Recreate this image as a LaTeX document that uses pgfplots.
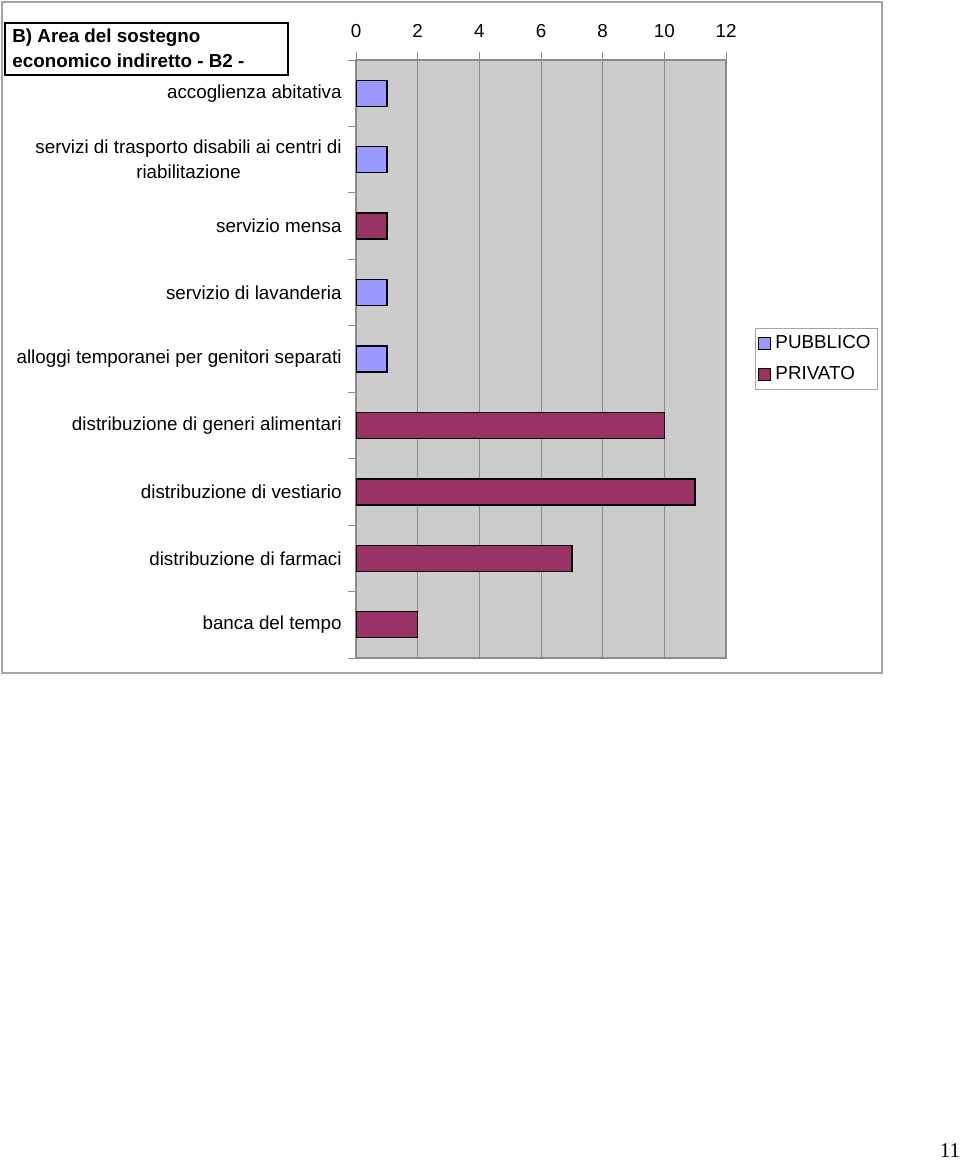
\documentclass[border=0pt]{standalone}
\usepackage{pgfplots}
\pgfplotsset{compat=1.18}
\usepackage{fontspec}
\setmainfont{Liberation Sans}
\newfontfamily\seriffont{Liberation Serif}
\definecolor{pub}{RGB}{153,153,255}
\definecolor{priv}{RGB}{153,51,102}
\definecolor{plotbg}{RGB}{204,204,204}
\definecolor{gridc}{RGB}{140,140,140}
\definecolor{framec}{RGB}{165,165,165}
\pgfplotsset{myleg/.style={legend image code/.code={\draw[##1, draw=black, line width=0.6pt] (0pt,-3pt) rectangle (6pt,3pt);}}}
\begin{document}
\begin{tikzpicture}
\fontsize{9.4}{12.5}\selectfont
\useasboundingbox (0,0) rectangle (480pt,-580pt);
\fill[white] (0,0) rectangle (480pt,-580pt);
\draw[framec, line width=0.6pt] (1pt,-1pt) rectangle (441pt,-336.5pt);
\begin{axis}[
  at={(178pt,-329pt)}, anchor=south west,
  scale only axis, width=185pt, height=299pt,
  xmin=0, xmax=12, ymin=-0.5, ymax=8.5, y dir=reverse,
  xbar, bar width=13pt, bar shift=0pt,
  axis background/.style={fill=plotbg},
  axis line style={gridc, line width=0.6pt},
  xtick={0,2,...,12}, xtick pos=right, xticklabel pos=right,
  tick align=outside, major tick length=4pt,
  tick style={gridc, line width=0.5pt},
  xmajorgrids, grid style={gridc, line width=0.5pt},
  /pgf/number format/assume math mode=true,
  ticklabel style={font=\fontsize{9.4}{12.5}\selectfont},
  xticklabel style={inner sep=0pt, anchor=base, yshift=7.5pt},
  ytick={-0.5,0.5,...,8.5}, yticklabels={}, ytick pos=left,
  extra y ticks={0,1,2,3,4,5,6,7,8},
  extra y tick labels={accoglienza abitativa,{servizi di trasporto disabili ai centri di\\riabilitazione},servizio mensa,servizio di lavanderia,alloggi temporanei per genitori separati,distribuzione di generi alimentari,distribuzione di vestiario,distribuzione di farmaci,banca del tempo},
  extra y tick style={tick style={draw=none}, yticklabel style={align=center, anchor=east, inner sep=0pt, xshift=-3pt}},
  legend style={at={(1.078,0.552)}, anchor=north west, draw=framec, fill=white,
    font=\fontsize{9.4}{12.5}\selectfont, row sep=3.5pt, inner xsep=1.5pt, inner ysep=1.5pt},
  legend cell align=left,
]
\addplot[fill=pub, draw=black, line width=0.7pt, myleg] coordinates {(1,0) (1,1) (1,3) (1,4)};
\addplot[fill=priv, draw=black, line width=0.7pt, myleg] coordinates {(1,2) (10,5) (11,6) (7,7) (2,8)};
\legend{PUBBLICO, PRIVATO}
\end{axis}
\draw[black, line width=0.9pt] (2.5pt,-11.5pt) rectangle (144pt,-37.5pt);
\node[anchor=base west, inner sep=0pt, font=\bfseries] at (6pt,-21.5pt) {B) Area del sostegno};
\node[anchor=base west, inner sep=0pt, font=\bfseries] at (6pt,-34pt) {economico indiretto - B2 -};
\node[anchor=base east, inner sep=0pt, font=\seriffont\fontsize{10.5}{12}\selectfont] at (480.3pt,-578.6pt) {11};
\end{tikzpicture}
\end{document}
